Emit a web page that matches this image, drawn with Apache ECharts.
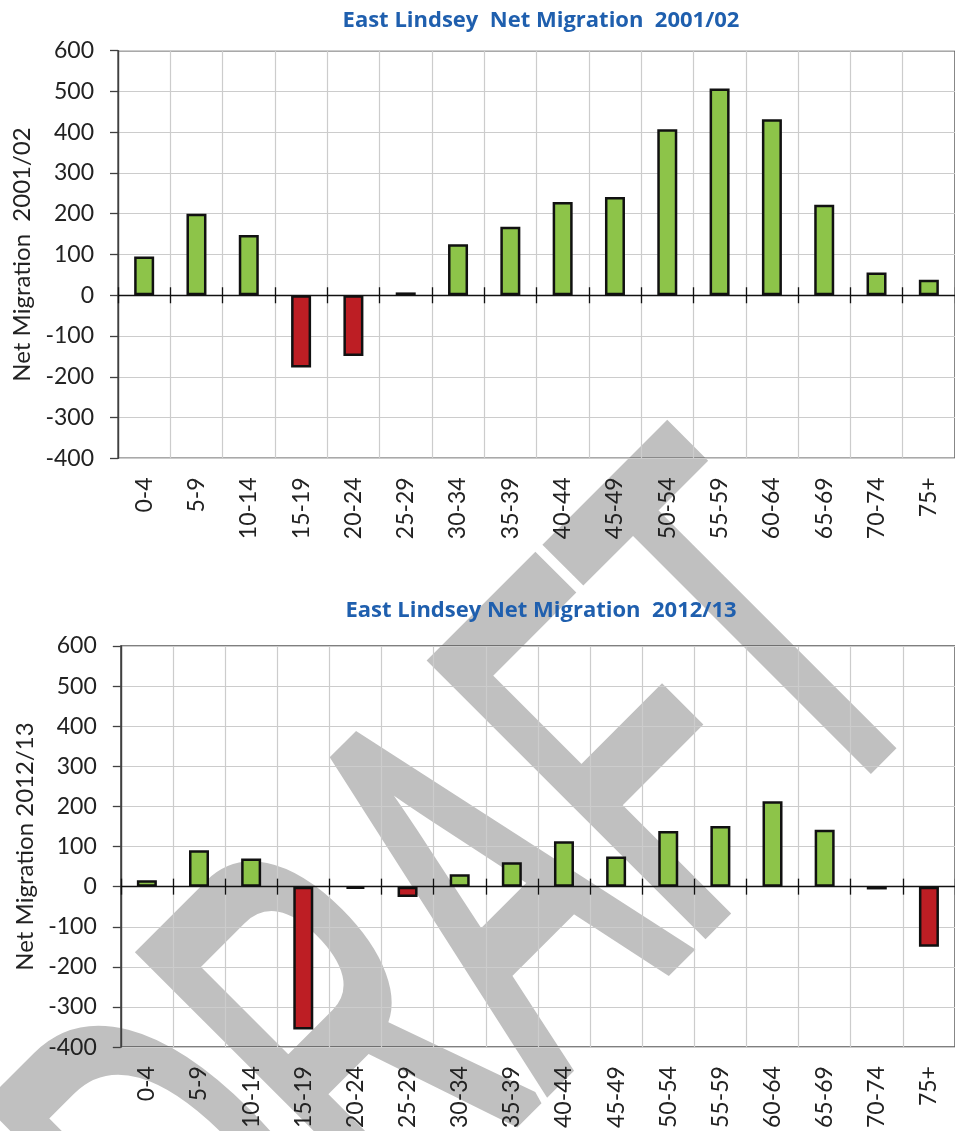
<!DOCTYPE html>
<html>
<head>
<meta charset="utf-8">
<script src="https://cdn.jsdelivr.net/npm/echarts@6/dist/echarts.min.js"></script>
<style>
  html, body { margin: 0; padding: 0; background: #fff; }
  #chart { width: 955px; height: 1131px; }
</style>
</head>
<body>
<div id="chart"></div>
<script>
// Age bands on the x axis
const ageGroups = ['0-4', '5-9', '10-14', '15-19', '20-24', '25-29', '30-34', '35-39',
  '40-44', '45-49', '50-54', '55-59', '60-64', '65-69', '70-74', '75+']

// Net migration by age band
const net2001 = [95, 200, 148, -177, -149, 7, 125, 168, 229, 241, 407, 507, 432, 222, 56, 38]
const net2012 = [16, 91, 70, -356, -5, -26, 31, 61, 113, 75, 139, 151, 213, 142, -7, -150]

// Value axis ticks
const yMin = -400
const yMax = 600
const yStep = 100

const titles = ['East Lindsey  Net Migration  2001/02', 'East Lindsey Net Migration  2012/13']
const yNames = ['Net Migration  2001/02', 'Net Migration 2012/13']

const FONT = 'Lato, "Open Sans", sans-serif'
const TITLE_FONT = '"Open Sans", Lato, sans-serif'
const GREEN = '#8DC449'
const RED = '#BD1E24'
const TEXT = '#222222'
const GRIDLINE = '#CCCCCC'
const AXIS = '#404040'

const grids = [
  { left: 118, top: 50.7, width: 844, height: 407.6 },
  { left: 120.8, top: 646, width: 841, height: 406.7 },
]

const barData = values =>
  values.map(v => ({ value: v, itemStyle: { color: v < 0 ? RED : GREEN } }))

const xAxes = []
const yAxes = []
const series = []

grids.forEach((g, i) => {
  // label axis at the bottom, also draws the vertical grid lines
  xAxes.push({
    type: 'category',
    gridIndex: i,
    position: 'bottom',
    data: ageGroups,
    axisLine: { show: false, onZero: false },
    axisTick: { show: false },
    splitLine: { show: true, interval: 0, lineStyle: { color: GRIDLINE, width: 1.2 } },
    axisLabel: {
      interval: 0,
      rotate: 90,
      margin: 19,
      color: TEXT,
      fontSize: 23,
      fontFamily: FONT,
    },
  })
  // zero line with ticks below
  xAxes.push({
    type: 'category',
    gridIndex: i,
    position: 'bottom',
    data: ageGroups,
    axisLine: { show: true, onZero: true, onZeroAxisIndex: i, lineStyle: { color: '#111', width: 1.3 } },
    axisTick: { show: true, length: 8, lineStyle: { color: '#111', width: 1.3 } },
    axisLabel: { show: false },
    splitLine: { show: false },
  })
  // same ticks above the zero line
  xAxes.push({
    type: 'category',
    gridIndex: i,
    position: 'bottom',
    data: ageGroups,
    axisLine: { show: false, onZero: true, onZeroAxisIndex: i },
    axisTick: { show: true, inside: true, length: 8, lineStyle: { color: '#111', width: 1.3 } },
    axisLabel: { show: false },
    splitLine: { show: false },
  })

  yAxes.push({
    type: 'value',
    gridIndex: i,
    min: yMin,
    max: yMax,
    interval: yStep,
    name: yNames[i],
    nameLocation: 'middle',
    nameGap: 84,
    nameTextStyle: { color: TEXT, fontSize: 24, fontFamily: FONT },
    axisLine: { show: true, lineStyle: { color: AXIS, width: 1.4 } },
    axisTick: { show: true, length: 8, lineStyle: { color: AXIS, width: 1.3 } },
    splitLine: { show: true, lineStyle: { color: GRIDLINE, width: 1.2 } },
    axisLabel: { margin: 24, color: TEXT, fontSize: 23, fontFamily: FONT },
  })

  series.push({
    type: 'bar',
    xAxisIndex: i * 3,
    yAxisIndex: i,
    barWidth: 20,
    data: barData(i === 0 ? net2001 : net2012),
    itemStyle: { borderColor: '#111', borderWidth: 2.5 },
  })
})

const chart = echarts.init(document.getElementById('chart'), null, { renderer: 'canvas' })

chart.setOption({
  backgroundColor: '#ffffff',
  animation: false,
  title: titles.map((t, i) => ({
    text: t,
    left: 536,
    textAlign: 'center',
    top: i === 0 ? 5 : 595,
    textStyle: { color: '#1F5FAE', fontSize: 22, fontWeight: 'bold', fontFamily: TITLE_FONT },
  })),
  grid: grids.map(g => ({
    ...g,
    show: true,
    borderColor: '#555555',
    borderWidth: 1.5,
    backgroundColor: 'transparent',
  })),
  xAxis: xAxes,
  yAxis: yAxes,
  series,
  // DRAFT watermark behind the charts
  graphic: [
    {
      type: 'text',
      z: -10,
      x: 485,
      y: 934,
      rotation: Math.PI / 4,
      scaleX: 0.54,
      silent: true,
      style: {
        text: 'DRAFT',
        font: 'normal 550px "Liberation Sans"',
        fill: '#C0C0C0',
        stroke: '#C0C0C0',
        lineWidth: 16,
        lineJoin: 'round',
        align: 'center',
        verticalAlign: 'middle',
      },
    },
  ],
})
</script>
</body>
</html>
